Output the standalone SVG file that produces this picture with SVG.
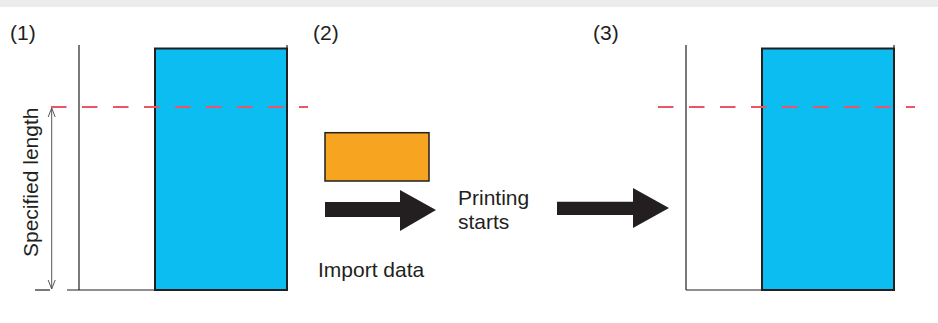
<svg xmlns="http://www.w3.org/2000/svg" width="938" height="323" viewBox="0 0 938 323">
<style>
text{font-family:"Liberation Sans",Arial,sans-serif;font-size:21px;fill:#231f20}
.ln{stroke:#231f20;stroke-width:1.2;fill:none}
.paper{fill:#0bbdf0;stroke:#231f20;stroke-width:2}
.dash{stroke:#ed5565;stroke-width:2;stroke-dasharray:15.5 15.5;fill:none}
.big{fill:#231f20}
</style>
<defs>
<marker id="ah" viewBox="0 0 10 10" refX="10" refY="5" markerWidth="10" markerHeight="10" markerUnits="userSpaceOnUse" orient="auto-start-reverse">
<path d="M1,1.5 L10,5 L1,8.5" fill="none" stroke="#555" stroke-width="1"/>
</marker>
</defs>
<rect x="0" y="0" width="938" height="7" fill="#ececec"/>
<g id="panel1">
<text x="10" y="40">(1)</text>
<line class="ln" x1="79" y1="45" x2="79" y2="290"/>
<line class="ln" x1="67" y1="290" x2="155" y2="290"/>
<line class="ln" x1="35" y1="290" x2="50" y2="290"/>
<line class="ln" x1="287" y1="45" x2="287" y2="49"/>
<rect class="paper" x="155" y="48.5" width="132" height="241.5"/>
<line class="dash" x1="51" y1="107" x2="308" y2="107"/>
<line x1="51.7" y1="108" x2="51.7" y2="289" stroke="#555" stroke-width="1" marker-start="url(#ah)" marker-end="url(#ah)"/>
<text transform="translate(37.5,257) rotate(-90)">Specified length</text>
</g>
<g id="panel2">
<text x="313" y="40">(2)</text>
<rect x="325" y="132.7" width="104" height="48.3" fill="#f7a520" stroke="#231f20" stroke-width="1.5"/>
<text x="318" y="277">Import data</text>
</g>
<g id="label-printing">
<text x="458" y="205">Printing</text>
<text x="458" y="229">starts</text>
</g>
<g id="connectors">
<path class="big" d="M325,202 H400 V190 L436,210 L400,231 V217 H325 Z"/>
<path class="big" d="M557,201.7 H633 V188 L669,208 L633,228 V215 H557 Z"/>
</g>
<g id="panel3">
<text x="593" y="40">(3)</text>
<line class="ln" x1="686" y1="45" x2="686" y2="290"/>
<line class="ln" x1="686" y1="290" x2="762" y2="290"/>
<line class="ln" x1="894" y1="45" x2="894" y2="49"/>
<rect class="paper" x="762" y="48.5" width="132" height="241.5"/>
<line class="dash" x1="658" y1="107" x2="915" y2="107"/>
</g>
</svg>
